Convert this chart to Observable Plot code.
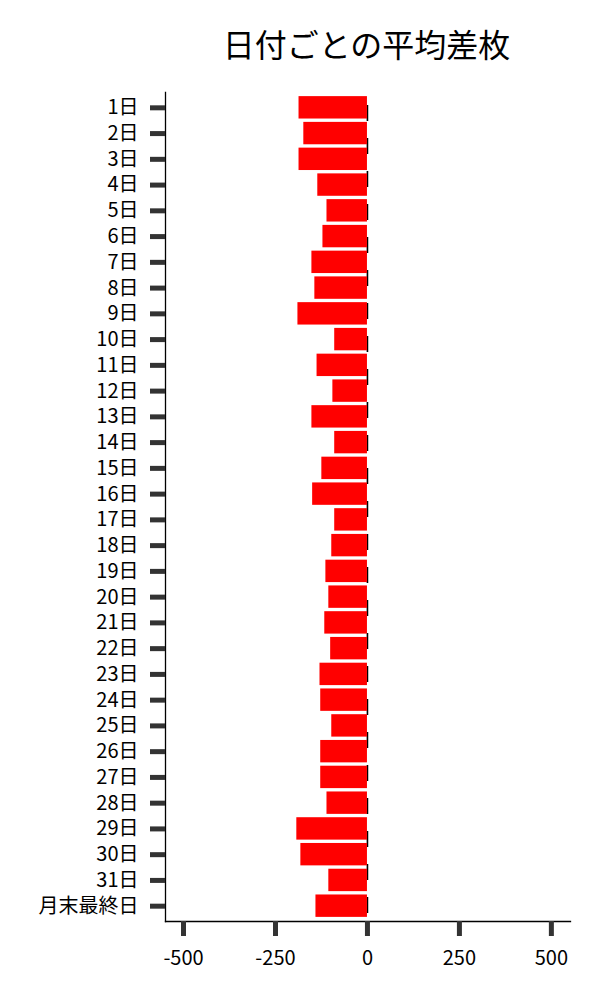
<!DOCTYPE html>
<html>
<head>
<meta charset="utf-8">
<script src="https://cdn.jsdelivr.net/npm/d3@7"></script>
<script src="https://cdn.jsdelivr.net/npm/@observablehq/plot@0.6"></script>
<style>
  html, body { margin: 0; padding: 0; background: #fff; }
  #wrap { position: relative; width: 600px; height: 1000px; }
  #title { position: absolute; left: 133px; width: 467px; top: 20px; text-align: center;
           font-family: "Noto Sans CJK JP", sans-serif; font-size: 32px; line-height: 46px; color: #000; }
  svg { display: block; }
</style>
</head>
<body>
<div id="wrap">
  <div id="title">日付ごとの平均差枚</div>
  <div id="chart"></div>
</div>
<script>
const days = ["1日","2日","3日","4日","5日","6日","7日","8日","9日","10日","11日","12日","13日","14日","15日","16日","17日","18日","19日","20日","21日","22日","23日","24日","25日","26日","27日","28日","29日","30日","31日","月末最終日"];
const avgDiff = [-186,-173,-186,-135,-110,-121,-151,-143,-189,-89,-137,-94,-151,-89,-124,-149,-89,-97,-113,-105,-116,-100,-129,-127,-97,-127,-127,-110,-192,-181,-105,-140];
const xTicks = [-500,-250,0,250,500];

const data = days.map((d, i) => ({day: d, value: avgDiff[i]}));

const chart = Plot.plot({
  width: 600,
  height: 1000,
  marginTop: 92,
  marginBottom: 79,
  marginLeft: 165,
  marginRight: 30,
  style: {fontFamily: "'Noto Sans CJK JP', sans-serif", fontSize: "20px", background: "white"},
  x: {domain: [-549, 552], ticks: xTicks, label: null},
  y: {domain: days, paddingInner: 0.13, paddingOuter: 0.16, round: false, label: null},
  marks: [
    Plot.ruleX([0], {stroke: "black", strokeWidth: 1.6, strokeDasharray: "16 17", strokeDashoffset: 20}),
    Plot.barX(data, {x: "value", y: "day", fill: "#ff0000"}),
    Plot.frame({anchor: "left", stroke: "black", strokeWidth: 1.3}),
    Plot.frame({anchor: "bottom", stroke: "black", strokeWidth: 1.3}),
    Plot.axisX({ticks: xTicks, tickSize: 15, tickPadding: 14, stroke: "#333", strokeWidth: 5, fill: "black", fontSize: 20, tickFormat: d => String(d), label: null}),
    Plot.axisY({tickSize: 15, tickPadding: 12, stroke: "#333", strokeWidth: 5, fill: "black", fontSize: 20, label: null})
  ]
});
document.getElementById("chart").appendChild(chart);
</script>
</body>
</html>
